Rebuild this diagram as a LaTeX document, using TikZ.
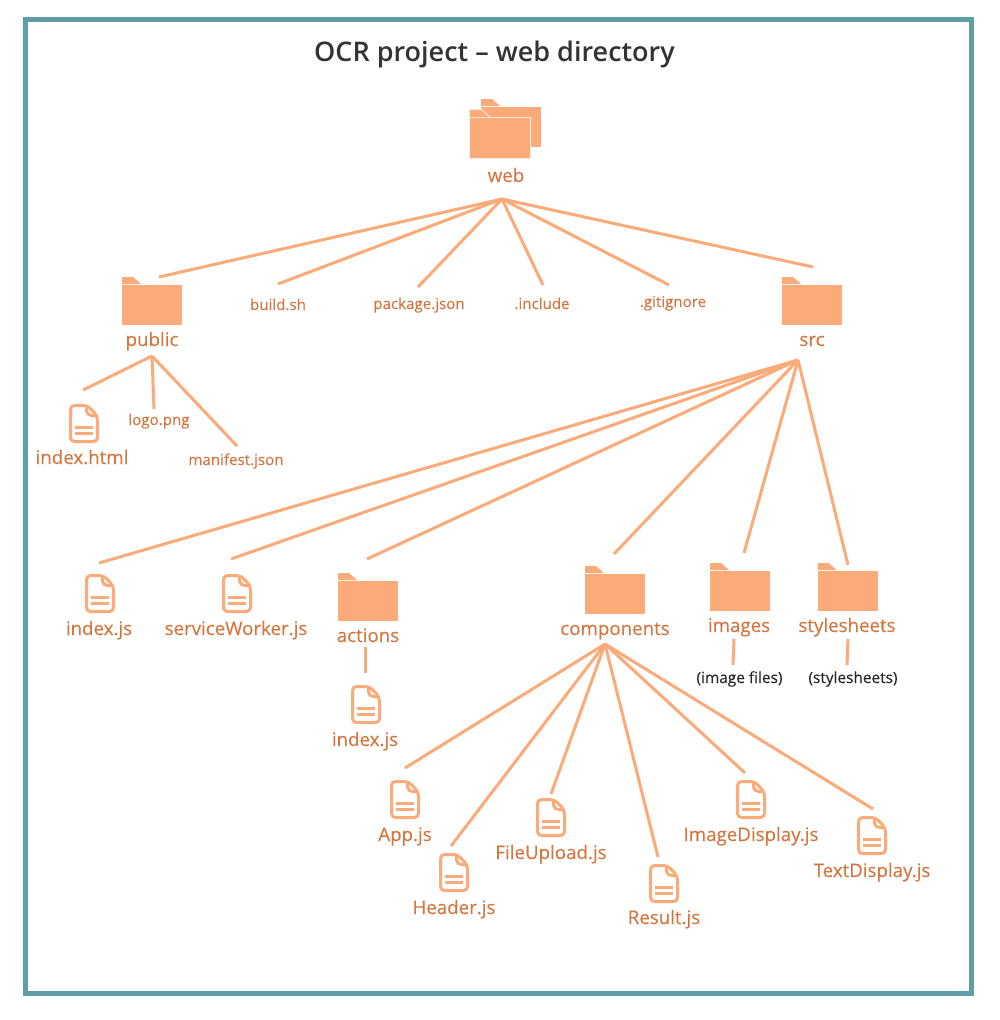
\documentclass[tikz,border=0pt]{standalone}
\usepackage{fontspec}
\setmainfont{Open Sans}
\newfontfamily\titlefont{Open Sans Semibold}
\newfontfamily\labfont[FakeBold=0.12]{Open Sans}
\definecolor{linec}{HTML}{FBAA79}
\definecolor{labc}{HTML}{D4763F}
\definecolor{framec}{HTML}{5F9EA6}
\definecolor{titlec}{HTML}{333333}
\tikzset{
  conn/.style={draw=linec,line width=3pt},
  biglab/.style={anchor=base,text=labc,font=\labfont\fontsize{18.7}{20}\selectfont,inner sep=0pt},
  smalllab/.style={anchor=base,text=labc,font=\labfont\fontsize{15.1}{17}\selectfont,inner sep=0pt},
  blacklab/.style={anchor=base,text=black!85,font=\labfont\fontsize{15.4}{16}\selectfont,inner sep=0pt},
  folder/.pic={
    \fill[linec] (0,0) -- (11,0) -- (19,7) -- (0,7) -- cycle;
    \fill[linec] (0,8) rectangle (60,48);
  },
  docfile/.pic={
    \draw[linec,line width=3pt,line join=round,rounded corners=4pt]
      (1.5,1.5) -- (18.5,1.5) -- (28.5,12) -- (28.5,37.5) -- (1.5,37.5) -- cycle;
    \draw[linec,line width=3pt,line join=round] (17.5,2) -- (17.5,7) .. controls (17.5,10) and (20,11.5) .. (23,11.5) -- (28,11.5);
    \draw[linec,line width=3pt] (6,23) -- (24,23) (6,29) -- (24,29);
  }
}
\begin{document}
\begin{tikzpicture}[x=1pt,y=-1pt]
\useasboundingbox (0,0) rectangle (1000,1020);
\fill[white] (0,0) rectangle (1000,1020);
\draw[framec,line width=5pt] (25.5,19.5) rectangle (971,993);
\node[anchor=base,text=titlec,inner sep=0pt,font=\titlefont\fontsize{27}{32}\selectfont] (title) at (494.5,61) {OCR project – web directory};

% web icon
\fill[linec] (481,99) -- (492,99) -- (500,106) -- (481,106) -- cycle;
\fill[linec] (481,107) rectangle (541,147);
\fill[white!75!linec] (469,109) -- (481.5,109) -- (490.5,117) -- (531,117) -- (531,159) -- (469,159) -- cycle;
\fill[linec] (470,110) -- (481,110) -- (489,117) -- (470,117) -- cycle;
\fill[linec] (470,118) rectangle (530,158);

% folders
\pic at (122,277) {folder};
\pic at (782,277) {folder};
\pic at (338,573) {folder};
\pic at (585,566) {folder};
\pic at (710,563) {folder};
\pic at (817.5,563) {folder};

% files
\pic at (69,404) {docfile};
\pic at (85,574) {docfile};
\pic at (222,574) {docfile};
\pic at (351,685) {docfile};
\pic at (390,780) {docfile};
\pic at (439,853) {docfile};
\pic at (536,798) {docfile};
\pic at (649,864) {docfile};
\pic at (736,780) {docfile};
\pic at (857,816) {docfile};

% labels
\node[biglab] (web) at (506,182) {web};
\node[biglab] (public) at (152,346) {public};
\node[biglab] (src) at (812,346) {src};
\node[smalllab] (buildsh) at (278,310) {build.sh};
\node[smalllab] (packagejson) at (419,309) {package.json};
\node[smalllab] (include) at (542,309) {.include};
\node[smalllab] (gitignore) at (673,307) {.gitignore};
\node[biglab] (indexhtml) at (82,464) {index.html};
\node[smalllab] (logopng) at (159,425) {logo.png};
\node[smalllab] (manifestjson) at (236,465) {manifest.json};
\node[biglab] (indexjs) at (99,635) {index.js};
\node[biglab] (sw) at (236,635) {serviceWorker.js};
\node[biglab] (actions) at (368,642) {actions};
\node[biglab] (components) at (615,635) {components};
\node[biglab] (images) at (739,632) {images};
\node[biglab] (stylesheets) at (847,632) {stylesheets};
\node[blacklab] (imagefiles) at (739.5,683) {(image files)};
\node[blacklab] (stylesheetsb) at (853,683) {(stylesheets)};
\node[biglab] (actindex) at (365,746) {index.js};
\node[biglab] (appjs) at (405,841) {App.js};
\node[biglab] (headerjs) at (454,914) {Header.js};
\node[biglab] (fileupload) at (551,859) {FileUpload.js};
\node[biglab] (resultjs) at (664,924) {Result.js};
\node[biglab] (imagedisplay) at (751,841) {ImageDisplay.js};
\node[biglab] (textdisplay) at (872,877) {TextDisplay.js};

% hubs and line ends
\coordinate (hubweb) at (502,199);
\coordinate (hubpublic) at (152,356);
\coordinate (hubsrc) at (798,360);
\coordinate (hubcomp) at (605,644);

\foreach \name/\ex/\ey in {public/159/277,build/278/284,package/418/287,include/543/285,gitignore/669/285,src/813/267}{
  \coordinate (end\name) at (\ex,\ey);
  \draw[conn] (hubweb) -- (end\name);
}
\foreach \name/\ex/\ey in {ihtml/83/390,logo/154/409,manifest/237/446}{
  \coordinate (end\name) at (\ex,\ey);
  \draw[conn] (hubpublic) -- (end\name);
}
\foreach \name/\ex/\ey in {ijs/99/563,sw/231/559,actions/367/559,components/614/554,images/744/553,styles/848/565}{
  \coordinate (end\name) at (\ex,\ey);
  \draw[conn] (hubsrc) -- (end\name);
}
\foreach \name/\ex/\ey in {app/405/768,header/451/846,upload/551/794,result/658/857,imgd/745/773,textd/873/809}{
  \coordinate (end\name) at (\ex,\ey);
  \draw[conn] (hubcomp) -- (end\name);
}
\coordinate (actA) at (365,647); \coordinate (actB) at (365,673);
\coordinate (imgA) at (734,639); \coordinate (imgB) at (733,665);
\coordinate (styA) at (848,639); \coordinate (styB) at (847,665);
\draw[conn] (actA) -- (actB);
\draw[conn] (imgA) -- (imgB);
\draw[conn] (styA) -- (styB);
\end{tikzpicture}
\end{document}
